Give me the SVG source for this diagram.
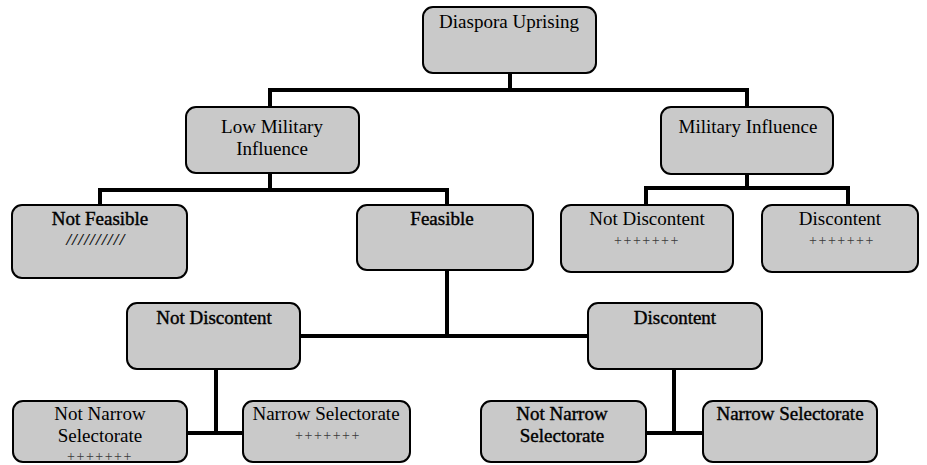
<svg xmlns="http://www.w3.org/2000/svg" width="927" height="465" viewBox="0 0 927 465">
  <defs>
    <style>
      .box { fill: #c9c9c9; stroke: #000; stroke-width: 2; }
      .lbl { font-family: 'Liberation Serif', 'Times New Roman', serif; font-size: 19px; fill: #000; text-anchor: middle; }
      .dark { stroke: #000; stroke-width: 0.4; }
      .mark { font-family: 'Liberation Serif', 'Times New Roman', serif; font-size: 14px; fill: #3a3a3a; text-anchor: middle; letter-spacing: 1.5px; }
      .slash { font-family: 'Liberation Serif', 'Times New Roman', serif; font-size: 17px; font-style: italic; font-weight: bold; fill: #111; text-anchor: middle; letter-spacing: 1.2px; }
      .conn { stroke: #000; stroke-width: 4; fill: none; stroke-linecap: square; }
    </style>
  </defs>
  <rect width="927" height="465" fill="#fff"/>

  <!-- tree connectors -->
  <g id="connectors" class="conn">
    <path d="M510 73 V90 M270 90 H747 M270 90 V107 M747 90 V107"/>
    <path d="M270 173 V190 M100 190 H447 M100 190 V205 M447 190 V205"/>
    <path d="M747 174 V188 M646 188 H848 M646 188 V205 M848 188 V205"/>
    <path d="M447 270 V336 M300 336 H588"/>
    <path d="M216 369 V433 M187 433 H243"/>
    <path d="M674 369 V433 M646 433 H703"/>
  </g>

  <g id="n-root">
    <rect class="box" x="423" y="7" width="173" height="66" rx="10"/>
    <text class="lbl" x="509" y="28">Diaspora Uprising</text>
  </g>

  <g id="n-low-military">
    <rect class="box" x="186" y="107" width="173" height="66" rx="10"/>
    <text class="lbl" x="272" y="133">Low Military</text>
    <text class="lbl" x="272" y="155">Influence</text>
  </g>

  <g id="n-military">
    <rect class="box" x="661" y="107" width="172" height="67" rx="10"/>
    <text class="lbl" x="748" y="133">Military Influence</text>
  </g>

  <g id="n-not-feasible">
    <rect class="box" x="12" y="205" width="175" height="73" rx="10"/>
    <text class="lbl dark" x="100" y="225">Not Feasible</text>
    <text class="slash" x="96" y="245">//////////</text>
  </g>

  <g id="n-feasible">
    <rect class="box" x="357" y="205" width="176" height="65" rx="10"/>
    <text class="lbl dark" x="442" y="225">Feasible</text>
  </g>

  <g id="n-mil-not-discontent">
    <rect class="box" x="561" y="205" width="172" height="67" rx="10"/>
    <text class="lbl" x="647" y="225">Not Discontent</text>
    <text class="mark" x="647" y="245">+++++++</text>
  </g>

  <g id="n-mil-discontent">
    <rect class="box" x="762" y="205" width="156" height="67" rx="10"/>
    <text class="lbl" x="840" y="225">Discontent</text>
    <text class="mark" x="842" y="245">+++++++</text>
  </g>

  <g id="n-not-discontent">
    <rect class="box" x="127" y="303" width="173" height="66" rx="10"/>
    <text class="lbl dark" x="214" y="324">Not Discontent</text>
  </g>

  <g id="n-discontent">
    <rect class="box" x="588" y="303" width="174" height="66" rx="10"/>
    <text class="lbl dark" x="675" y="324">Discontent</text>
  </g>

  <g id="n-nd-not-narrow">
    <rect class="box" x="13" y="401" width="174" height="61" rx="10"/>
    <text class="lbl" x="100" y="420">Not Narrow</text>
    <text class="lbl" x="100" y="442">Selectorate</text>
    <text class="mark" x="100" y="461">+++++++</text>
  </g>

  <g id="n-nd-narrow">
    <rect class="box" x="243" y="401" width="167" height="61" rx="10"/>
    <text class="lbl" x="326" y="420">Narrow Selectorate</text>
    <text class="mark" x="328" y="440">+++++++</text>
  </g>

  <g id="n-d-not-narrow">
    <rect class="box" x="481" y="401" width="165" height="61" rx="10"/>
    <text class="lbl dark" x="562" y="420">Not Narrow</text>
    <text class="lbl dark" x="562" y="442">Selectorate</text>
  </g>

  <g id="n-d-narrow">
    <rect class="box" x="703" y="401" width="174" height="61" rx="10"/>
    <text class="lbl dark" x="790" y="420">Narrow Selectorate</text>
  </g>
</svg>
